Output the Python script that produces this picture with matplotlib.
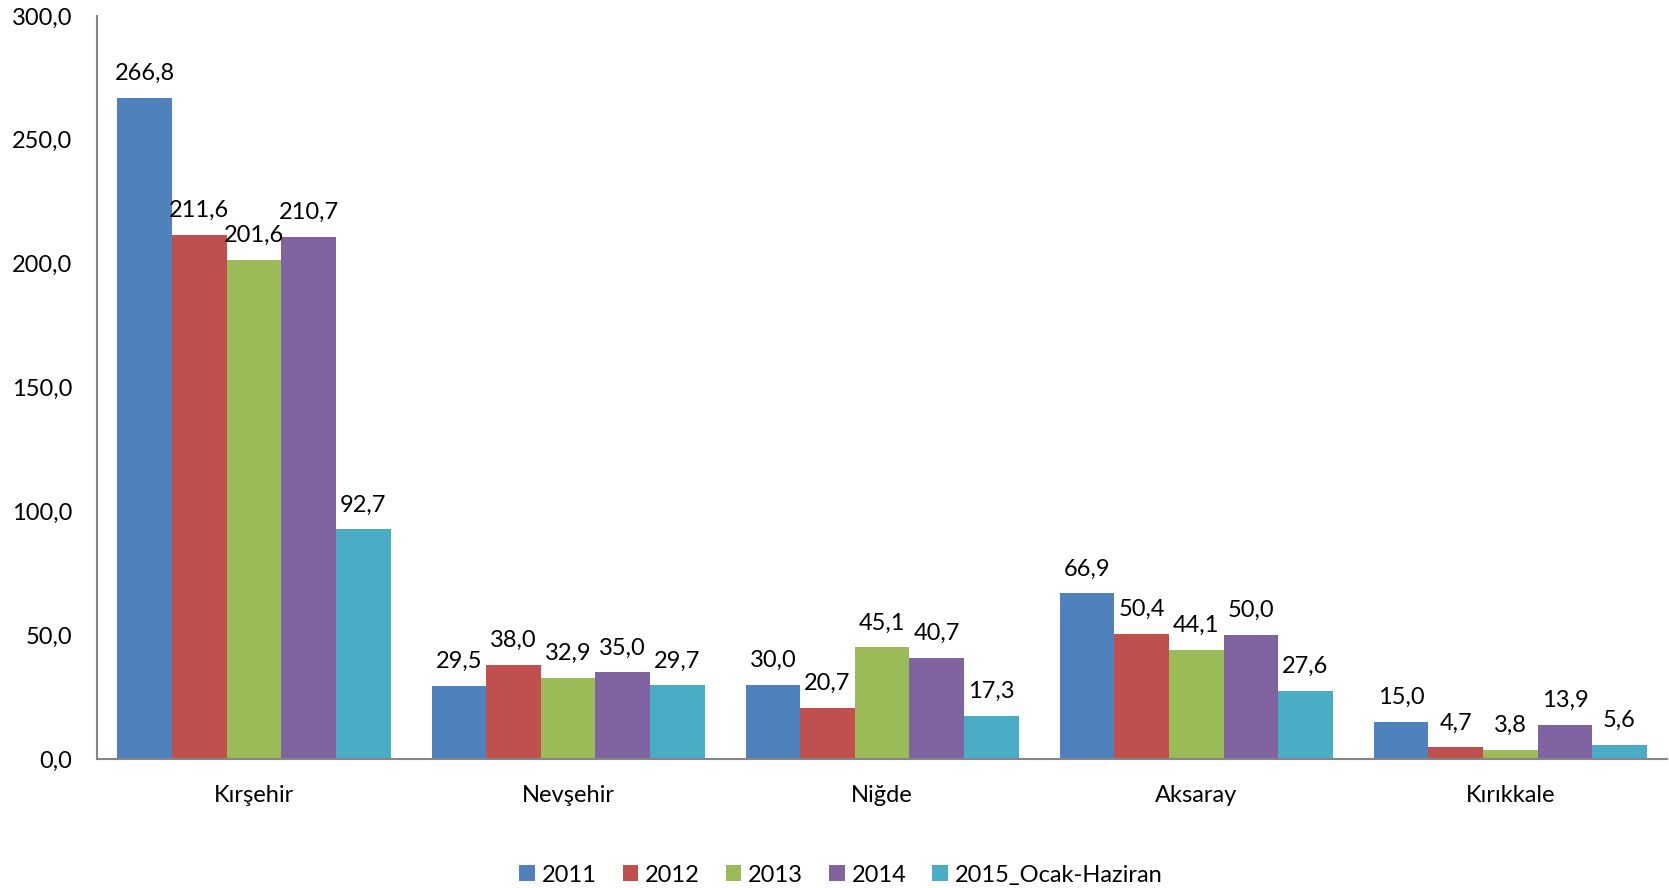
import matplotlib
matplotlib.use("Agg")
import matplotlib.pyplot as plt
import numpy as np

plt.rcParams['font.family'] = ['Lato', 'DejaVu Sans']

categories = ["Kırşehir", "Nevşehir", "Niğde", "Aksaray", "Kırıkkale"]
series_names = ["2011", "2012", "2013", "2014", "2015_Ocak-Haziran"]
values = {
    "2011": [266.8, 29.5, 30.0, 66.9, 15.0],
    "2012": [211.6, 38.0, 20.7, 50.4, 4.7],
    "2013": [201.6, 32.9, 45.1, 44.1, 3.8],
    "2014": [210.7, 35.0, 40.7, 50.0, 13.9],
    "2015_Ocak-Haziran": [92.7, 29.7, 17.3, 27.6, 5.6],
}
colors = ["#4F81BD", "#C0504D", "#9BBB59", "#8064A2", "#4BACC6"]
yticks = [0, 50, 100, 150, 200, 250, 300]

FS = 17

fig = plt.figure(figsize=(16.69, 8.88), dpi=100)
ax = fig.add_axes([97/1669, 1 - 759/888, 1 - 97/1669 - 0.001, (759 - 16)/888])

n = len(series_names)
w = 1 / (n + 0.75)
x = np.arange(len(categories))

def fmt(v):
    return f"{v:.1f}".replace(".", ",")

for i, s in enumerate(series_names):
    pos = x + (i - (n - 1) / 2) * w
    bars = ax.bar(pos, values[s], width=w, color=colors[i], label=s, linewidth=0)
    for b, v in zip(bars, values[s]):
        ax.annotate(fmt(v), (b.get_x() + b.get_width() / 2, v), xytext=(0, 10),
                    textcoords="offset points", ha="center", va="bottom", fontsize=FS)

ax.set_xlim(-0.5, len(categories) - 0.5)
ax.set_ylim(0, 300)
ax.set_yticks(yticks)
ax.set_yticklabels([fmt(t) for t in yticks], fontsize=FS)
ax.set_xticks(x)
ax.set_xticklabels(categories, fontsize=FS)
ax.tick_params(axis='y', length=0, pad=18)
ax.tick_params(axis='x', length=0, pad=19)
for sp in ["top", "right"]:
    ax.spines[sp].set_visible(False)
for sp in ["left", "bottom"]:
    ax.spines[sp].set_color("#868686")
    ax.spines[sp].set_linewidth(1.5)

leg = fig.legend(loc="center", bbox_to_anchor=(841/1669, 1 - 875/888), ncol=5, frameon=False,
                 fontsize=FS, handlelength=0.65, handleheight=0.65, handletextpad=0.3,
                 columnspacing=1.1)

fig.savefig("out.png", dpi=100)
